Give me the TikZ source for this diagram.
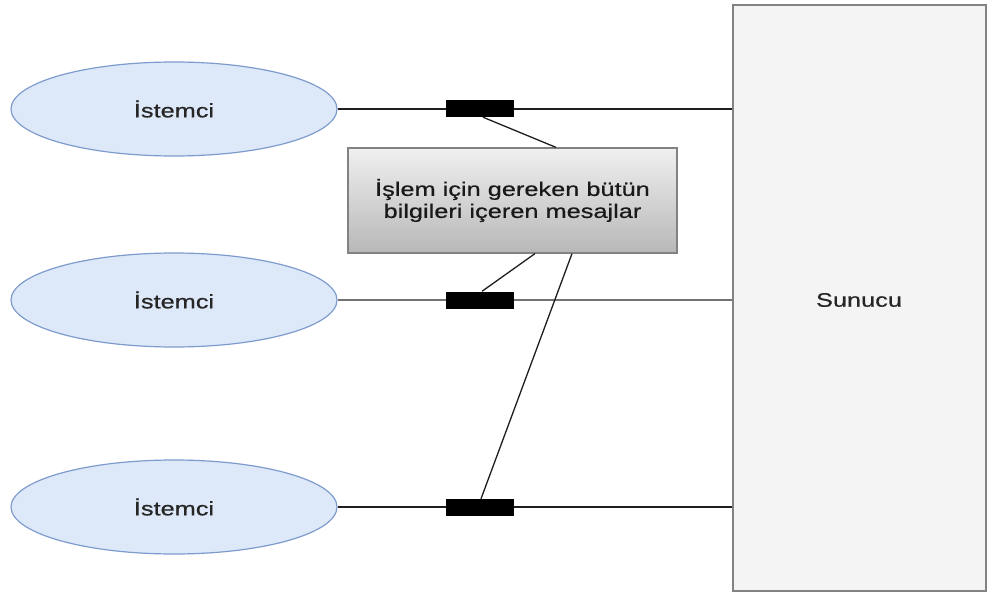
\documentclass[tikz,border=0pt]{standalone}
\usepackage{fontspec}
\setmainfont[FakeStretch=1.3,FakeBold=0.6]{Liberation Sans}
\usetikzlibrary{shapes.geometric,calc}
\definecolor{clientfill}{RGB}{221,233,248}
\definecolor{clientline}{RGB}{125,155,205}
\definecolor{frameline}{RGB}{130,130,130}
\definecolor{serverfill}{RGB}{244,244,244}
\definecolor{wire}{RGB}{30,30,30}
\begin{document}
\begin{tikzpicture}[x=1pt,y=-1pt,
  client/.style={ellipse,draw=clientline,line width=1.2pt,fill=clientfill,
    minimum width=326pt,minimum height=94pt,inner sep=0pt,
    font=\fontsize{19.5}{22}\selectfont,text=black!85},
  server/.style={rectangle,draw=frameline,line width=1.4pt,fill=serverfill,
    minimum width=253pt,minimum height=586pt,inner sep=0pt},
  msgbox/.style={rectangle,draw=frameline,line width=1.2pt,
    top color=white!94!black,bottom color=black!28,
    minimum width=329pt,minimum height=105pt,inner sep=0pt,align=center,
    font=\fontsize{19.5}{22}\selectfont,text=black!90},
  packet/.style={rectangle,fill=black,minimum width=68pt,minimum height=17pt,inner sep=0pt},
  link/.style={draw=wire,line width=1.3pt},
  thinlink/.style={draw=black!55,line width=1.1pt}]
\useasboundingbox (0,0) rectangle (988,599);
\fill[white] (0,0) rectangle (988,599);

% server
\node[server] (srv) at (859.5,298) {};
\node[font=\fontsize{19.5}{22}\selectfont,text=black!85] (srvlabel) at (859,300) {Sunucu};

% clients
\node[client] (c1) at (174,109) {İstemci};
\node[client] (c2) at (174,300) {İstemci};
\node[client] (c3) at (174,507) {İstemci};

% client-server wires
\draw[link] (c1.east) -- (c1.east -| srv.west);
\draw[thinlink] (c2.east) -- (c2.east -| srv.west);
\draw[link] (c3.east) -- (c3.east -| srv.west);

% messages on the wires
\node[packet] (p1) at (480,108.5) {};
\node[packet] (p2) at (480,300) {};
\node[packet] (p3) at (480,507.5) {};

% message description
\node[msgbox] (msg) at (512.5,200.5) {İşlem için gereken bütün\\bilgileri içeren mesajlar};

\draw[link] ($(p1.south)+(3,0)$) -- ($(msg.north)+(43.5,0)$);
\draw[link] ($(msg.south)+(22.5,0)$) -- ($(p2.north)+(2,0)$);
\draw[link] ($(msg.south)+(59.5,0)$) -- ($(p3.north)+(1,0)$);
\end{tikzpicture}
\end{document}
